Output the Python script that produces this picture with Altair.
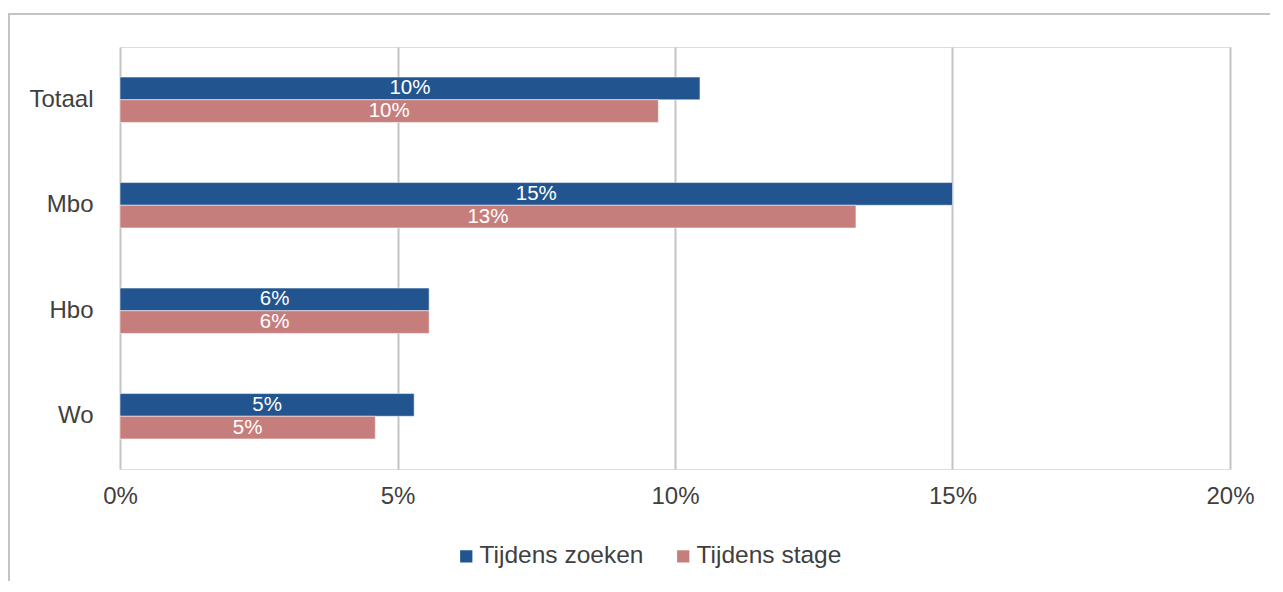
import altair as alt
import pandas as pd

categories = ["Totaal", "Mbo", "Hbo", "Wo"]
series = ["Tijdens zoeken", "Tijdens stage"]
zoeken = [0.1045, 0.150, 0.0557, 0.053]
stage = [0.097, 0.1326, 0.0557, 0.046]
colors = ["#22558f", "#c67e7d"]
x_ticks = [0, 0.05, 0.10, 0.15, 0.20]

rows = []
for c, z, s in zip(categories, zoeken, stage):
    rows.append({"cat": c, "serie": series[0], "value": z})
    rows.append({"cat": c, "serie": series[1], "value": s})
df = pd.DataFrame(rows)
df["half"] = df["value"] / 2

FONT = "Liberation Sans"

y_enc = alt.Y("cat:N", sort=categories, title=None,
              scale=alt.Scale(paddingInner=0.57, paddingOuter=0.285),
              axis=alt.Axis(labelFontSize=24, labelColor="#404040", labelPadding=27,
                            ticks=False, domain=False, labelFont=FONT))
yoff = alt.YOffset("serie:N", sort=series, scale=alt.Scale(paddingInner=0, paddingOuter=0))
color_enc = alt.Color("serie:N", sort=series,
                      scale=alt.Scale(domain=series, range=colors),
                      legend=alt.Legend(title=None, orient="none", direction="horizontal",
                                        legendX=334, legendY=497,
                                        symbolType="square", symbolSize=150,
                                        symbolStrokeWidth=0,
                                        labelFontSize=24.5, labelColor="#404040",
                                        labelFont=FONT, labelOffset=1, labelLimit=400,
                                        columnPadding=27))

bars = alt.Chart(df).mark_bar(stroke="white", strokeWidth=1, strokeOpacity=0.5).encode(
    x=alt.X("value:Q", title=None,
            scale=alt.Scale(domain=[0, 0.20], nice=False),
            axis=alt.Axis(values=x_ticks, format=".0%", labelFontSize=24,
                          labelColor="#404040", labelPadding=15, ticks=False,
                          labelFlush=False,
                          domain=False, grid=True, gridColor="#c4c4c4", gridWidth=2,
                          labelFont=FONT)),
    y=y_enc,
    yOffset=yoff,
    color=color_enc,
)

labels = alt.Chart(df).mark_text(color="white", fontSize=20.5, font=FONT, baseline="middle").encode(
    x=alt.X("half:Q"),
    y=alt.Y("cat:N", sort=categories),
    yOffset=yoff,
    text=alt.Text("value:Q", format=".0%"),
)

frame = alt.Chart(df).mark_rect(fill=None, stroke="#c4c4c4", strokeWidth=2).encode(
    x=alt.value(-111), x2=alt.value(1200), y=alt.value(-33), y2=alt.value(600)
)

chart = alt.layer(frame, bars, labels).properties(
    width=1110, height=422,
    autosize=alt.AutoSizeParams(type="none"),
    padding={"left": 112, "top": 39, "right": 40, "bottom": 112},
).configure_view(stroke=None).configure(font=FONT)

chart.save("out.html", embed_options={"renderer": "svg", "actions": False})
